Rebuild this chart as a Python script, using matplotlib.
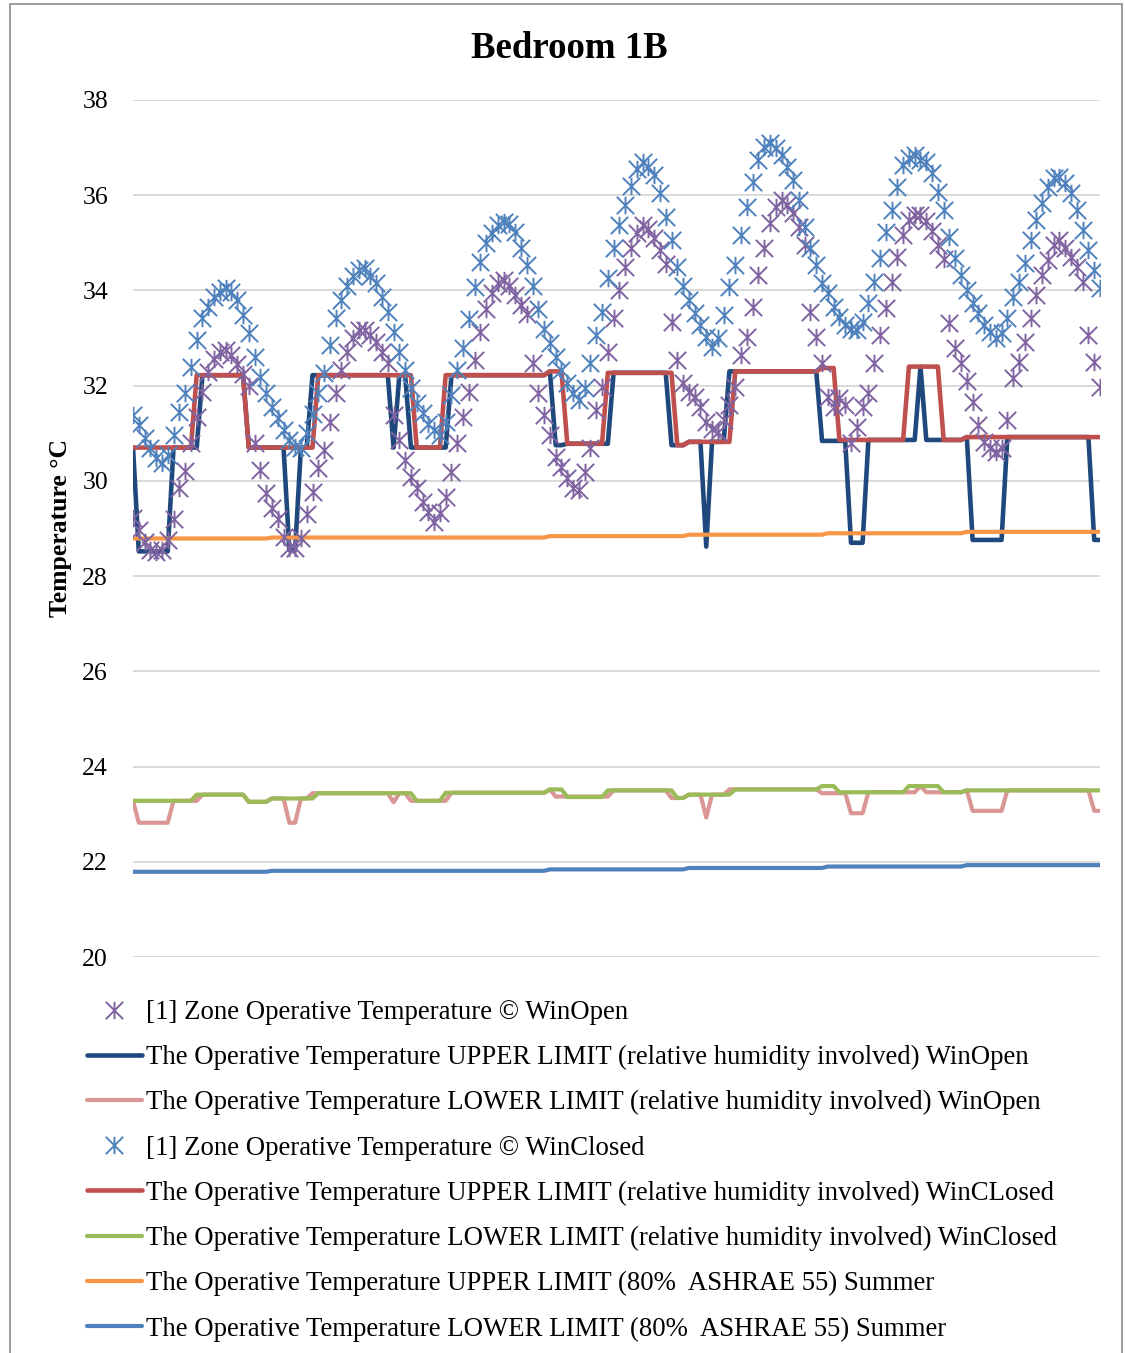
import numpy as np
import matplotlib
matplotlib.use("Agg")
import matplotlib.pyplot as plt
from matplotlib.path import Path
from matplotlib.patches import Rectangle

plt.rcParams['font.family'] = ['Liberation Serif', 'DejaVu Serif']

# hourly values over one week (168 h)
hours = np.arange(168)

# [1] Zone Operative Temperature, windows open / closed
win_open = [
    29.22, 28.97, 28.72, 28.55, 28.5, 28.55, 28.76, 29.2, 29.85, 30.2, 30.8, 31.34,
    31.87, 32.29, 32.55, 32.7, 32.75, 32.65, 32.45, 32.25, 32.0, 30.8, 30.23, 29.74,
    29.43, 29.2, 28.82, 28.6, 28.6, 28.8, 29.3, 29.77, 30.27, 30.65, 31.23, 31.84,
    32.33, 32.7, 33.0, 33.17, 33.17, 33.06, 32.92, 32.7, 32.48, 31.38, 30.86, 30.44,
    30.08, 29.85, 29.55, 29.34, 29.13, 29.32, 29.66, 30.18, 30.8, 31.34, 31.87, 32.54,
    33.13, 33.6, 33.95, 34.15, 34.22, 34.1, 33.9, 33.7, 33.5, 32.47, 31.84, 31.38,
    30.96, 30.5, 30.29, 30.06, 29.85, 29.8, 30.18, 30.69, 31.49, 31.97, 32.7, 33.42,
    34.0, 34.5, 34.9, 35.2, 35.37, 35.3, 35.1, 34.85, 34.55, 33.34, 32.54, 32.05,
    31.87, 31.76, 31.55, 31.23, 31.1, 31.03, 31.28, 31.6, 31.97, 32.64, 33.02, 33.65,
    34.32, 34.89, 35.42, 35.75, 35.9, 35.8, 35.63, 35.33, 34.95, 33.55, 33.02, 32.47,
    31.76, 31.55, 31.74, 31.6, 30.8, 31.13, 31.55, 31.84, 32.47, 33.06, 33.63, 34.18,
    34.7, 35.16, 35.48, 35.58, 35.58, 35.45, 35.25, 34.95, 34.65, 33.32, 32.79, 32.47,
    32.1, 31.66, 31.17, 30.82, 30.7, 30.6, 30.7, 31.28, 32.16, 32.5, 32.92, 33.42,
    33.9, 34.32, 34.64, 34.95, 35.05, 34.9, 34.7, 34.5, 34.18, 33.06, 32.5, 31.97,
]
win_closed = [
    31.38, 31.17, 30.9, 30.7, 30.48, 30.37, 30.54, 30.96, 31.45, 31.84, 32.4, 32.96,
    33.42, 33.65, 33.86, 33.97, 34.05, 33.97, 33.8, 33.48, 33.1, 32.6, 32.18, 31.84,
    31.55, 31.32, 31.07, 30.86, 30.72, 30.69, 31.0, 31.4, 31.84, 32.26, 32.85, 33.42,
    33.8, 34.1, 34.3, 34.43, 34.47, 34.3, 34.15, 33.86, 33.55, 33.13, 32.7, 32.33,
    31.95, 31.63, 31.42, 31.2, 31.07, 30.96, 31.23, 31.8, 32.33, 32.8, 33.4, 34.07,
    34.6, 35.0, 35.2, 35.37, 35.44, 35.4, 35.23, 34.9, 34.53, 34.1, 33.6, 33.2,
    32.9, 32.6, 32.33, 32.05, 31.84, 31.7, 31.95, 32.47, 33.06, 33.55, 34.26, 34.9,
    35.37, 35.79, 36.2, 36.55, 36.7, 36.6, 36.42, 36.05, 35.55, 35.06, 34.5, 34.1,
    33.8, 33.52, 33.27, 33.02, 32.81, 33.0, 33.48, 34.07, 34.53, 35.16, 35.75, 36.28,
    36.74, 37.01, 37.1, 37.0, 36.85, 36.6, 36.32, 35.9, 35.33, 34.89, 34.53, 34.15,
    33.95, 33.65, 33.44, 33.27, 33.2, 33.17, 33.34, 33.73, 34.18, 34.68, 35.23, 35.69,
    36.17, 36.63, 36.78, 36.85, 36.74, 36.7, 36.47, 36.07, 35.69, 35.12, 34.68, 34.32,
    34.0, 33.73, 33.52, 33.27, 33.13, 33.0, 33.1, 33.42, 33.86, 34.18, 34.58, 35.06,
    35.48, 35.84, 36.17, 36.36, 36.38, 36.26, 36.05, 35.69, 35.27, 34.85, 34.43, 34.05,
]

# limit lines are step-like, stored as (value, number of hours) runs
upper_rh_open = [(30.7, 1), (28.52, 6), (30.7, 5), (32.22, 8), (30.7, 7), (28.55, 2),
                 (30.7, 2), (32.22, 14), (30.7, 1), (32.22, 2), (30.7, 7), (32.22, 17),
                 (32.3, 1), (30.75, 2), (30.78, 8), (32.27, 10), (30.75, 3), (30.82, 3),
                 (28.62, 1), (30.82, 3), (32.3, 16), (30.84, 5), (28.7, 3), (30.86, 9),
                 (32.4, 1), (30.86, 7), (30.92, 1), (28.76, 6), (30.92, 15), (28.76, 2)]
lower_rh_open = [(23.28, 1), (22.82, 6), (23.28, 5), (23.41, 8), (23.26, 4), (23.33, 3),
                 (22.82, 2), (23.33, 2), (23.44, 14), (23.25, 1), (23.44, 2), (23.28, 7),
                 (23.45, 17), (23.52, 1), (23.37, 10), (23.5, 10), (23.34, 3), (23.41, 3),
                 (22.93, 1), (23.41, 3), (23.52, 16), (23.44, 5), (23.02, 3), (23.46, 9),
                 (23.59, 1), (23.46, 7), (23.5, 1), (23.07, 6), (23.5, 15), (23.07, 2)]
upper_rh_closed = [(30.7, 11), (32.22, 9), (30.7, 12), (32.22, 17), (30.7, 5), (32.22, 18),
                   (32.3, 3), (30.78, 7), (32.27, 12), (30.75, 2), (30.82, 8), (32.3, 15),
                   (32.37, 3), (30.86, 12), (32.4, 6), (30.86, 4), (30.92, 24)]
lower_rh_closed = [(23.28, 11), (23.41, 9), (23.26, 4), (23.33, 8), (23.44, 17), (23.28, 5),
                   (23.45, 18), (23.52, 3), (23.36, 7), (23.5, 12), (23.34, 2), (23.41, 8),
                   (23.52, 15), (23.59, 3), (23.46, 12), (23.59, 6), (23.46, 4), (23.5, 24)]
upper_ashrae = [(28.79, 24), (28.81, 48), (28.84, 24), (28.87, 24), (28.9, 24), (28.93, 24)]
lower_ashrae = [(21.79, 24), (21.81, 48), (21.84, 24), (21.87, 24), (21.9, 24), (21.93, 24)]

labels = [
    "[1] Zone Operative Temperature \u00a9 WinOpen",
    "The Operative Temperature UPPER LIMIT (relative humidity involved) WinOpen",
    "The Operative Temperature LOWER LIMIT (relative humidity involved) WinOpen",
    "[1] Zone Operative Temperature \u00a9 WinClosed",
    "The Operative Temperature UPPER LIMIT (relative humidity involved) WinCLosed",
    "The Operative Temperature LOWER LIMIT (relative humidity involved) WinClosed",
    "The Operative Temperature UPPER LIMIT (80%  ASHRAE 55) Summer",
    "The Operative Temperature LOWER LIMIT (80%  ASHRAE 55) Summer",
]


def expand(runs):
    return np.repeat([v for v, n in runs], [n for v, n in runs])


# excel "star" marker: an X with a vertical bar
star = Path([(0, -1), (0, 1), (-1, -1), (1, 1), (-1, 1), (1, -1)],
            [Path.MOVETO, Path.LINETO] * 3)

W, H = 1125, 1353
fig = plt.figure(figsize=(W / 100, H / 100), dpi=100)
ax = fig.add_axes([133 / W, 1 - 957 / H, (1100 - 133) / W, (957 - 100) / H])

line_kw = dict(solid_joinstyle='round', solid_capstyle='round')
h = {}
h[1] = ax.plot(hours, expand(upper_rh_open), color='#1F497D', lw=3.3, zorder=2, **line_kw)[0]
h[2] = ax.plot(hours, expand(lower_rh_open), color='#D99694', lw=3.0, zorder=2, **line_kw)[0]
h[4] = ax.plot(hours, expand(upper_rh_closed), color='#C0504D', lw=3.3, zorder=2.2, **line_kw)[0]
h[5] = ax.plot(hours, expand(lower_rh_closed), color='#9BBB59', lw=3.0, zorder=2.2, **line_kw)[0]
h[6] = ax.plot(hours, expand(upper_ashrae), color='#F79646', lw=3.0, zorder=2.3, **line_kw)[0]
h[7] = ax.plot(hours, expand(lower_ashrae), color='#4F81BD', lw=3.0, zorder=2.3, **line_kw)[0]
h[0] = ax.plot(hours, win_open, ls='none', marker=star, ms=12.5, mew=1.4,
               mec='#8064A2', mfc='none', zorder=3)[0]
h[3] = ax.plot(hours, win_closed, ls='none', marker=star, ms=12.5, mew=1.4,
               mec='#4F81BD', mfc='none', zorder=3.1)[0]

ax.set_xlim(0, 167)
ax.set_ylim(20, 38)
ax.set_yticks(range(20, 39, 2))
ax.set_xticks([])
ax.grid(axis='y', color='#D9D9D9', lw=1.4)
ax.set_axisbelow(True)
for s in ax.spines.values():
    s.set_visible(False)
ax.tick_params(axis='y', length=0, pad=18, labelsize=18.5)

fig.text(569 / W, 1 - 48 / H, "Bedroom 1B", ha='center', va='center',
         fontsize=26.5, fontweight='bold')
fig.text(60 / W, 1 - 528 / H, "Temperature \u00b0C", rotation=90, ha='center',
         va='center', fontsize=18.5, fontweight='bold')

fig.legend([h[i] for i in range(8)], labels, loc='upper left',
           bbox_to_anchor=(87 / W, 1 - 1000 / H), frameon=False, fontsize=19.3,
           handlelength=2.05, handletextpad=0.14, labelspacing=0.75,
           borderpad=0, borderaxespad=0, numpoints=1)

# chart area border
fig.add_artist(Rectangle((10 / W, -0.01), (1122 - 10) / W, 1.01 - 4 / H,
                         transform=fig.transFigure, fill=False,
                         edgecolor='#8C8C8C', lw=1.2))

fig.savefig("out.png", dpi=100)
